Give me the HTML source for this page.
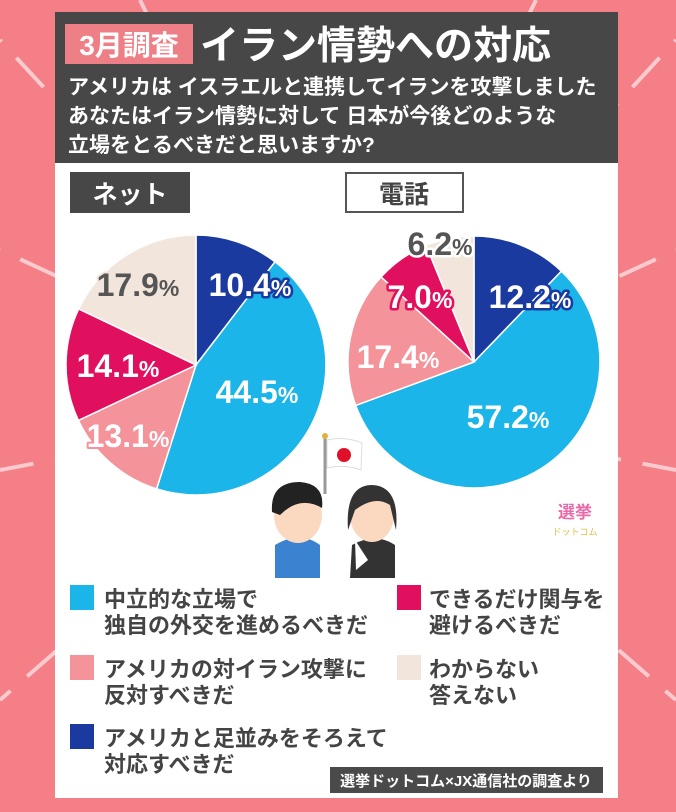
<!DOCTYPE html>
<html><head><meta charset="utf-8"><style>
body{margin:0;width:676px;height:812px;overflow:hidden;background:#f47f86;font-family:"Liberation Sans","Noto Sans CJK JP",sans-serif;}
svg{position:absolute;left:0;top:0}
</style></head><body>
<svg width="676" height="812" viewBox="0 0 676 812" xmlns="http://www.w3.org/2000/svg" font-family="Liberation Sans, Noto Sans CJK JP, sans-serif">
<g stroke="#fbd4d6" stroke-width="4" stroke-dasharray="40 22" fill="none" opacity="0.9">
<line x1="338" y1="406" x2="0" y2="40"/><line x1="338" y1="406" x2="676" y2="40"/>
<line x1="338" y1="406" x2="0" y2="250"/><line x1="338" y1="406" x2="676" y2="250"/>
<line x1="338" y1="406" x2="0" y2="470"/><line x1="338" y1="406" x2="676" y2="470"/>
<line x1="338" y1="406" x2="0" y2="700"/><line x1="338" y1="406" x2="676" y2="700"/>
<line x1="338" y1="406" x2="140" y2="0"/><line x1="338" y1="406" x2="536" y2="0"/>
<line x1="338" y1="406" x2="200" y2="812"/><line x1="338" y1="406" x2="476" y2="812"/>
</g>
<rect x="55" y="12" width="563" height="786" fill="#fff"/>
<rect x="55" y="12" width="563" height="151" fill="#474747"/>
<rect x="65" y="24" width="128" height="40" fill="#ef7f86"/>
<text x="129" y="55" font-size="28" font-weight="bold" fill="#fff" text-anchor="middle">3月調査</text>
<text x="200" y="59" font-size="39" font-weight="bold" fill="#fff">イラン情勢への対応</text>
<g font-size="21" font-weight="bold" fill="#fff">
<text x="68" y="94">アメリカは イスラエルと連携してイランを攻撃しました</text>
<text x="68" y="123">あなたはイラン情勢に対して 日本が今後どのような</text>
<text x="68" y="152">立場をとるべきだと思いますか?</text>
</g>
<rect x="70" y="172" width="120" height="41" fill="#474747"/>
<text x="130" y="203" font-size="25" font-weight="bold" fill="#fff" text-anchor="middle">ネット</text>
<rect x="346" y="173" width="117" height="39" fill="#fff" stroke="#555" stroke-width="2"/>
<text x="404" y="203" font-size="25" font-weight="bold" fill="#444" text-anchor="middle">電話</text>
<g stroke="#fff" stroke-width="1.5">
<path d="M196 365 L196 235 A130 130 0 0 1 275 261.8Z" fill="#1a3aa0"/>
<path d="M196 365 L275 261.8 A130 130 0 0 1 156.6 488.9Z" fill="#1bb5ea"/>
<path d="M196 365 L156.6 488.9 A130 130 0 0 1 78.4 420.4Z" fill="#f4939a"/>
<path d="M196 365 L78.4 420.4 A130 130 0 0 1 78.7 308.9Z" fill="#e0105e"/>
<path d="M196 365 L78.7 308.9 A130 130 0 0 1 196 235Z" fill="#f2e6dc"/>
<path d="M474 362 L474 236 A126 126 0 0 1 561.4 271.2Z" fill="#1a3aa0"/>
<path d="M474 362 L561.4 271.2 A126 126 0 1 1 355.7 405.4Z" fill="#1bb5ea"/>
<path d="M474 362 L355.7 405.4 A126 126 0 0 1 381.1 276.9Z" fill="#f4939a"/>
<path d="M474 362 L381.1 276.9 A126 126 0 0 1 426.1 245.4Z" fill="#e0105e"/>
<path d="M474 362 L426.1 245.4 A126 126 0 0 1 474 236Z" fill="#f2e6dc"/>
</g>
<g font-size="32" font-weight="bold" paint-order="stroke" stroke-linejoin="round">
<text x="250" y="296" text-anchor="middle" fill="#fff" stroke="#1a3aa0" stroke-width="5">10.4<tspan font-size="23">%</tspan></text>
<text x="138" y="296" text-anchor="middle" fill="#555" stroke="#f2e6dc" stroke-width="4">17.9<tspan font-size="23">%</tspan></text>
<text x="118" y="377" text-anchor="middle" fill="#fff" stroke="#e0105e" stroke-width="4">14.1<tspan font-size="23">%</tspan></text>
<text x="257" y="403" text-anchor="middle" fill="#fff" stroke="#1bb5ea" stroke-width="4">44.5<tspan font-size="23">%</tspan></text>
<text x="128" y="447" text-anchor="middle" fill="#fff" stroke="#f4939a" stroke-width="4">13.1<tspan font-size="23">%</tspan></text>
<text x="440" y="255" text-anchor="middle" fill="#555" stroke="#fff" stroke-width="5">6.2<tspan font-size="23">%</tspan></text>
<text x="420" y="308" text-anchor="middle" fill="#fff" stroke="#e0105e" stroke-width="5">7.0<tspan font-size="23">%</tspan></text>
<text x="530" y="308" text-anchor="middle" fill="#fff" stroke="#1a3aa0" stroke-width="5">12.2<tspan font-size="23">%</tspan></text>
<text x="398" y="368" text-anchor="middle" fill="#fff" stroke="#f4939a" stroke-width="4">17.4<tspan font-size="23">%</tspan></text>
<text x="508" y="428" text-anchor="middle" fill="#fff" stroke="#1bb5ea" stroke-width="4">57.2<tspan font-size="23">%</tspan></text>
</g>
<line x1="325" y1="436" x2="325" y2="494" stroke="#999" stroke-width="3"/>
<circle cx="325" cy="436" r="3" fill="#e0b040"/>
<path d="M327 440 Q345 436 362 443 L361 470 Q345 464 327 468Z" fill="#fff" stroke="#ddd"/>
<circle cx="344" cy="455" r="7" fill="#e0102a"/>
<path d="M275 578 L275 545 Q300 530 320 545 L320 578Z" fill="#3b82d0"/>
<ellipse cx="298" cy="515" rx="24" ry="28" fill="#fbd9c0"/>
<path d="M272 512 Q270 482 300 482 Q325 484 322 508 Q300 495 280 515Z" fill="#222"/>
<path d="M350 578 L352 545 Q375 532 395 545 L395 578Z" fill="#333"/>
<path d="M355 540 L368 560 L356 570Z" fill="#fff"/>
<ellipse cx="372" cy="515" rx="22" ry="27" fill="#fbd9c0"/>
<path d="M348 530 Q345 485 372 485 Q400 486 396 530 L390 505 Q375 495 355 510Z" fill="#333"/>
<text x="575" y="518" font-size="17" font-weight="bold" fill="#e86aa8" text-anchor="middle">選挙</text>
<text x="575" y="535" font-size="9" fill="#e0c040" text-anchor="middle">ドットコム</text>
<rect x="70" y="585" width="24" height="25" fill="#1bb5ea"/>
<rect x="397" y="585" width="24" height="25" fill="#e0105e"/>
<rect x="70" y="655" width="24" height="25" fill="#f4939a"/>
<rect x="397" y="655" width="24" height="25" fill="#f2e6dc"/>
<rect x="70" y="724" width="24" height="25" fill="#1a3aa0"/>
<g font-size="22" font-weight="bold" fill="#444">
<text x="104" y="607">中立的な立場で</text><text x="104" y="633">独自の外交を進めるべきだ</text>
<text x="429" y="607">できるだけ関与を</text><text x="429" y="633">避けるべきだ</text>
<text x="104" y="677">アメリカの対イラン攻撃に</text><text x="104" y="703">反対すべきだ</text>
<text x="429" y="677">わからない</text><text x="429" y="703">答えない</text>
<text x="104" y="746">アメリカと足並みをそろえて</text><text x="104" y="772">対応すべきだ</text>
</g>
<rect x="330" y="767" width="273" height="26" fill="#4a4a4a"/>
<text x="466" y="786" font-size="15" font-weight="bold" fill="#fff" text-anchor="middle">選挙ドットコム×JX通信社の調査より</text>
</svg>
</body></html>
